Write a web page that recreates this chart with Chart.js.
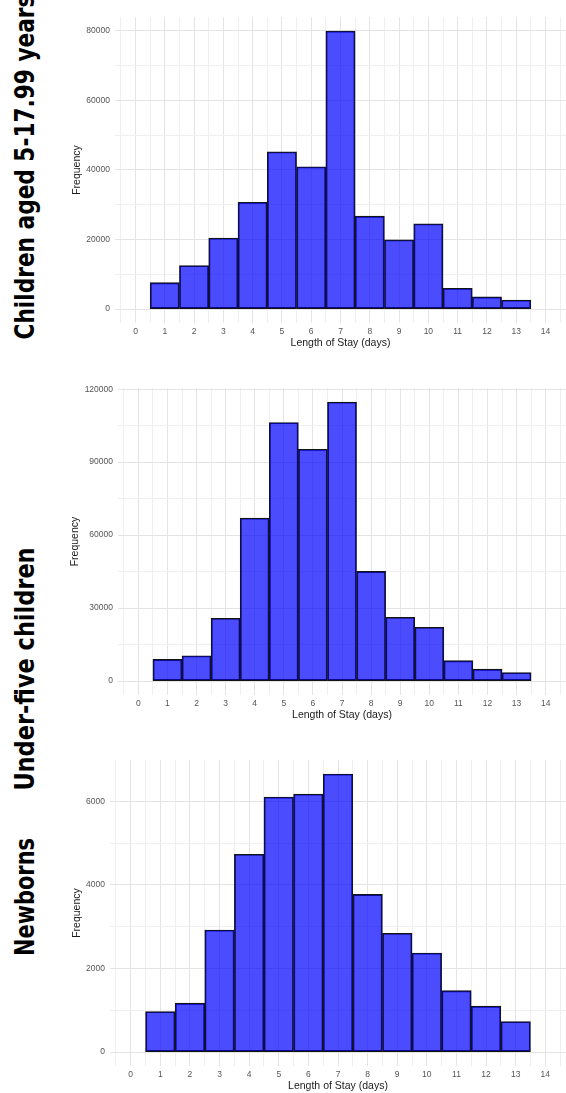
<!DOCTYPE html>
<html>
<head>
<meta charset="utf-8">
<script src="https://cdn.jsdelivr.net/npm/chart.js@4"></script>
<style>
  html, body { margin: 0; padding: 0; background: #fff; overflow: hidden; }
  body { width: 566px; height: 1093px; position: relative; }
  .panel { position: absolute; left: 60px; width: 506px; }
  .side {
    position: absolute; left: 24px; white-space: nowrap;
    font-family: "Liberation Sans Narrow", "DejaVu Sans Condensed", "Liberation Sans", sans-serif;
    font-weight: bold; font-size: 27px; line-height: 1; color: #000;
    transform: translate(-50%, -50%) rotate(-90deg);
  }
</style>
</head>
<body>
<div class="side" data-len="345" style="top:167px">Children aged 5-17.99 years</div>
<div class="side" data-len="243" style="top:669px">Under-five children</div>
<div class="side" data-len="118" style="top:897px">Newborns</div>

<div class="panel" style="top:7px;height:343px"><canvas id="c1"></canvas></div>
<div class="panel" style="top:378px;height:344px"><canvas id="c2"></canvas></div>
<div class="panel" style="top:750px;height:343px"><canvas id="c3"></canvas></div>

<script>
// length of stay (days) and counts per bin
var days = [1, 2, 3, 4, 5, 6, 7, 8, 9, 10, 11, 12, 13];
var olderChildren = [7600, 12500, 20400, 30700, 45200, 40900, 79900, 26700, 19900, 24500, 6000, 3500, 2600];
var underFive = [8900, 10400, 25800, 67000, 106300, 95300, 114700, 45100, 26200, 22100, 8400, 4900, 3500];
var newborns = [970, 1170, 2920, 4730, 6100, 6170, 6650, 3770, 2840, 2370, 1470, 1100, 730];

var xTicks = [0, 1, 2, 3, 4, 5, 6, 7, 8, 9, 10, 11, 12, 13, 14];
var xMinorTicks = [-0.5, 0.5, 1.5, 2.5, 3.5, 4.5, 5.5, 6.5, 7.5, 8.5, 9.5, 10.5, 11.5, 12.5, 13.5, 14.5];
var yTicks1 = [0, 10000, 20000, 30000, 40000, 50000, 60000, 70000, 80000];
var yTicks2 = [0, 15000, 30000, 45000, 60000, 75000, 90000, 105000, 120000];
var yTicks3 = [0, 1000, 2000, 3000, 4000, 5000, 6000];

var majorGrid = "#e4e4e4";
var minorGrid = "#efefef";
var tickFont = { family: "Liberation Sans, Arial, sans-serif", size: 8.5 };
var titleFont = { family: "Liberation Sans, Arial, sans-serif", size: 10.5 };

// squeeze the side labels along the text to the length seen in the figure
document.querySelectorAll(".side").forEach(function(el) {
    var s = el.dataset.len / el.offsetWidth;
    el.style.transform = "translate(-50%, -50%) rotate(-90deg) scaleX(" + s + ")";
});

function makePanel(id, counts, yTicks, labelStep, yAxisWidth, titleOffset) {
    var top = Math.max.apply(null, counts);
    var ctx = document.getElementById(id).getContext("2d");
    return new Chart(ctx, {
        type: "bar",
        data: {
            datasets: [{
                data: days.map(function(d, i) { return { x: d, y: counts[i] }; }),
                backgroundColor: "rgba(0, 0, 255, 0.7)",
                borderColor: "#141414",
                borderWidth: 1.2,
                borderSkipped: false,
                barPercentage: 1,
                categoryPercentage: 1
            }]
        },
        options: {
            responsive: true,
            maintainAspectRatio: false,
            animation: false,
            devicePixelRatio: 1,
            layout: { padding: { top: 10, right: 0, left: 0, bottom: 0 } },
            plugins: { legend: { display: false }, tooltip: { enabled: false } },
            scales: {
                x: {
                    type: "linear",
                    offset: false,
                    min: -0.7,
                    max: 14.7,
                    afterBuildTicks: function(axis) {
                        axis.ticks = xTicks.map(function(v) { return { value: v }; });
                    },
                    afterFit: function(axis) { axis.height = 27; },
                    grid: { offset: false, color: majorGrid, lineWidth: 1, drawTicks: false },
                    border: { display: false },
                    ticks: {
                        autoSkip: false, maxRotation: 0, padding: 3.5,
                        color: "#555", font: tickFont,
                        callback: function(v) { return String(v); }
                    },
                    title: {
                        display: true, text: "Length of Stay (days)",
                        color: "#1a1a1a", font: titleFont,
                        padding: { top: 0, bottom: 0.5 }
                    }
                },
                xMinor: {
                    type: "linear",
                    position: "bottom",
                    offset: false,
                    min: -0.7,
                    max: 14.7,
                    afterBuildTicks: function(axis) {
                        axis.ticks = xMinorTicks.map(function(v) { return { value: v }; });
                    },
                    afterFit: function(axis) { axis.height = 0; },
                    grid: { offset: false, color: minorGrid, lineWidth: 1, drawTicks: false },
                    border: { display: false },
                    ticks: { display: false }
                },
                y: {
                    min: -0.05 * top,
                    max: 1.05 * top,
                    afterBuildTicks: function(axis) {
                        axis.ticks = yTicks.map(function(v) { return { value: v }; });
                    },
                    afterFit: function(axis) { axis.width = yAxisWidth; },
                    grid: {
                        drawTicks: false,
                        color: function(c) { return c.tick && c.tick.value % labelStep === 0 ? majorGrid : minorGrid; }
                    },
                    border: { display: false },
                    ticks: {
                        autoSkip: false, padding: 5,
                        color: "#555", font: tickFont,
                        callback: function(v) { return v % labelStep === 0 ? String(v) : ""; }
                    },
                    title: {
                        display: true, text: "Frequency",
                        color: "#1a1a1a", font: titleFont,
                        padding: { top: titleOffset, bottom: 0 }
                    }
                }
            }
        }
    });
}

makePanel("c1", olderChildren, yTicks1, 20000, 55, 11);
makePanel("c2", underFive, yTicks2, 30000, 58, 8.7);
makePanel("c3", newborns, yTicks3, 2000, 50, 11);
</script>
</body>
</html>
